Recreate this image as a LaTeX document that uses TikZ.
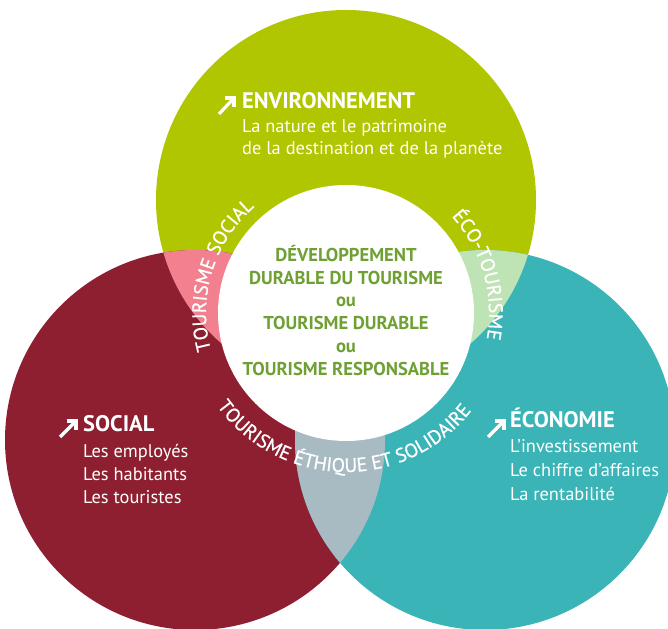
\documentclass[tikz,border=0pt]{standalone}
\usepackage{fontspec}
\setmainfont{PT Sans}
\newfontfamily\arcfont[FakeBold=0.8]{PT Sans}
\usetikzlibrary{decorations.text}
\definecolor{cgreen}{HTML}{B0C600}
\definecolor{cred}{HTML}{8E1F30}
\definecolor{cteal}{HTML}{3AB4B7}
\definecolor{cpink}{HTML}{F2808E}
\definecolor{clgreen}{HTML}{BEE3B4}
\definecolor{cgray}{HTML}{A8BBC3}
\definecolor{ctext}{HTML}{6FA034}
\begin{document}
\begin{tikzpicture}[x=1pt,y=1pt,
 title/.style={anchor=base west, text=white, font=\fontsize{22.5}{22.5}\selectfont\bfseries, inner sep=0},
 body/.style={anchor=base west, text=white, font=\fontsize{18.4}{18.4}\selectfont, inner sep=0},
 core/.style={anchor=base, text=ctext, font=\fontsize{18.6}{18.6}\selectfont\bfseries, inner sep=0},
 icon/.style={white, line width=3.2pt},
 arctext/.style={decorate, decoration={text along path, text align=center, text={|\arcfont\fontsize{19.5}{19.5}\selectfont\color{white}|#1}}}
]
\useasboundingbox (0,0) rectangle (668,628);
\fill[white] (0,0) rectangle (668,628);
\coordinate (G) at (346,428);
\coordinate (R) at (195,188);
\coordinate (T) at (485,188);
\coordinate (W) at (346,315);
\fill[cgreen] (G) circle[radius=190];
\fill[cred] (R) circle[radius=190];
\fill[cteal] (T) circle[radius=190];
\begin{scope}
 \clip (G) circle[radius=190];
 \fill[cpink] (R) circle[radius=190];
 \fill[clgreen] (T) circle[radius=190];
\end{scope}
\begin{scope}
 \clip (R) circle[radius=190];
 \fill[cgray] (T) circle[radius=190];
\end{scope}
\fill[white] (W) circle[radius=128];

% curved labels
\path[arctext={TOURISME SOCIAL}] ([shift={(205:140)}]W) arc[start angle=205, end angle=121, radius=140];
\path[arctext={ÉCO-TOURISME}] ([shift={(50:143)}]W) arc[start angle=50, end angle=-18, radius=143];
\path[arctext={TOURISME ÉTHIQUE ET SOLIDAIRE}] ([shift={(205:159)}]W) arc[start angle=205, end angle=333, radius=159];

% centre
\node[core] (c1) at (346,366) {DÉVELOPPEMENT};
\node[core] (c2) at (346,343) {DURABLE DU TOURISME};
\node[core] (c3) at (346,321) {ou};
\node[core] (c4) at (346,298) {TOURISME DURABLE};
\node[core] (c5) at (346,275) {ou};
\node[core] (c6) at (346,252) {TOURISME RESPONSABLE};

% environnement
\coordinate (ea) at (219,514);
\coordinate (eb) at (234,530);
\draw[icon] (ea) -- (eb);
\draw[icon, line join=miter] (eb) ++(-9.5,0) -- (eb) -- ++(0,-9.5);
\node[title] (e0) at (242,519) {ENVIRONNEMENT};
\node[body] (e1) at (242,495) {La nature et le patrimoine};
\node[body] (e2) at (242,473) {de la destination et de la planète};

% social
\coordinate (sa) at (60,191);
\coordinate (sb) at (76,207);
\draw[icon] (sa) -- (sb);
\draw[icon, line join=miter] (sb) ++(-9.5,0) -- (sb) -- ++(0,-9.5);
\node[title] (s0) at (83,196) {SOCIAL};
\node[body] (s1) at (83,170) {Les employés};
\node[body] (s2) at (83,147) {Les habitants};
\node[body] (s3) at (83,124) {Les touristes};

% economie
\coordinate (oa) at (488,191);
\coordinate (ob) at (504,207);
\draw[icon] (oa) -- (ob);
\draw[icon, line join=miter] (ob) ++(-9.5,0) -- (ob) -- ++(0,-9.5);
\node[title] (o0) at (510,200) {ÉCONOMIE};
\node[body] (o1) at (510,175) {L’investissement};
\node[body] (o2) at (510,151) {Le chiffre d’affaires};
\node[body] (o3) at (510,127) {La rentabilité};
\end{tikzpicture}
\end{document}
